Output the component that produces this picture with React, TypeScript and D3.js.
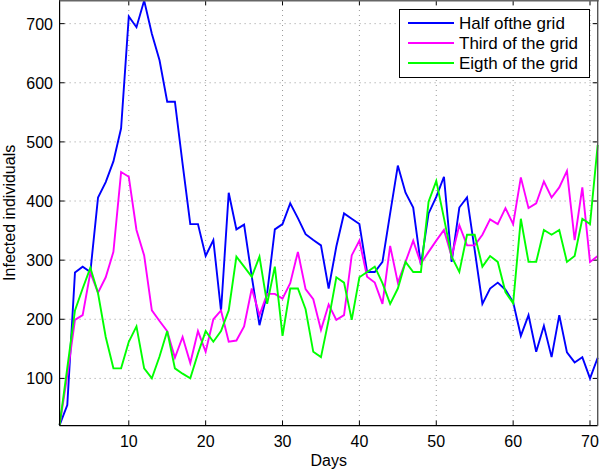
import React from "react";
import * as d3 from "d3";

const days: number[] = Array.from({ length: 71 }, (_, i) => i + 1);

const halfGrid: number[] = [
  21, 55, 279, 289, 280, 406, 432, 467, 523, 712,
  694, 739, 683, 638, 568, 568, 463, 361, 361, 307,
  334, 214, 414, 352, 360, 272, 190, 244, 352, 361,
  396, 371, 344, 334, 325, 252, 323, 379, 370, 361,
  280, 280, 297, 379, 460, 414, 389, 292, 379, 407,
  441, 297, 389, 406, 317, 226, 252, 262, 250, 229,
  172, 207, 145, 189, 136, 207, 144, 127, 136, 100,
  135,
];

const thirdGrid: number[] = [
  21, 105, 199, 207, 279, 245, 271, 314, 449, 441,
  351, 308, 215, 197, 180, 135, 170, 126, 180, 145,
  200, 215, 162, 164, 188, 252, 207, 243, 243, 235,
  261, 314, 251, 234, 182, 225, 199, 207, 308, 333,
  272, 262, 226, 324, 262, 297, 333, 294, 314, 333,
  351, 306, 359, 325, 325, 343, 369, 361, 388, 361,
  440, 388, 396, 433, 406, 423, 451, 334, 423, 297,
  307,
];

const eighthGrid: number[] = [
  21, 118, 215, 252, 287, 244, 170, 117, 117, 162,
  188, 117, 100, 137, 180, 117, 108, 100, 142, 180,
  162, 180, 215, 306, 289, 272, 306, 226, 289, 172,
  252, 252, 217, 145, 136, 199, 271, 262, 199, 271,
  280, 289, 261, 226, 252, 297, 280, 280, 399, 434,
  371, 306, 280, 343, 343, 289, 307, 297, 246, 227,
  370, 297, 297, 351, 343, 351, 297, 307, 370, 361,
  495,
];

const seriesNames: string[] = ["Half ofthe grid", "Third of the grid", "Eigth of the grid"];
const seriesColors: string[] = ["#0000ff", "#ff00ff", "#00ff00"];
const xTicks: number[] = [10, 20, 30, 40, 50, 60, 70];
const yTicks: number[] = [100, 200, 300, 400, 500, 600, 700];

const W = 600;
const H = 470;
const left = 59.6;
const right = 597.7;
const top = 0;
const bottom = 425.7;

export default function App() {
  const x = d3.scaleLinear().domain([1, 71]).range([left, right]);
  const y = d3.scaleLinear().domain([20, 740]).range([bottom, top]);
  const all = [halfGrid, thirdGrid, eighthGrid];
  const line = (vals: number[]) =>
    d3
      .line<number>()
      .x((_, i) => x(days[i]))
      .y((v) => y(v))(vals) as string;
  const font = "Liberation Sans, Arial, Helvetica, sans-serif";
  return (
    <svg
      width={W}
      height={H}
      style={{ position: "absolute", left: 0, top: 0, background: "#fff" }}
      fontFamily={font}
    >
      <rect x={0} y={0} width={W} height={H} fill="#fff" />
      {/* grid */}
      {xTicks.map((t) => (
        <line
          key={"gx" + t}
          x1={x(t)}
          x2={x(t)}
          y1={top}
          y2={bottom}
          stroke="#999"
          strokeWidth={1}
          strokeDasharray="1,4"
        />
      ))}
      {yTicks.map((t) => (
        <line
          key={"gy" + t}
          x1={left}
          x2={right}
          y1={y(t)}
          y2={y(t)}
          stroke="#999"
          strokeWidth={1}
          strokeDasharray="1,4"
        />
      ))}
      {/* ticks */}
      {xTicks.map((t) => (
        <g key={"tx" + t}>
          <line x1={x(t)} x2={x(t)} y1={bottom} y2={bottom - 5} stroke="#000" />
          <line x1={x(t)} x2={x(t)} y1={top} y2={top + 5} stroke="#000" />
          <text x={x(t)} y={447} textAnchor="middle" fontSize={16} fill="#000">
            {t}
          </text>
        </g>
      ))}
      {yTicks.map((t) => (
        <g key={"ty" + t}>
          <line x1={left} x2={left + 5} y1={y(t)} y2={y(t)} stroke="#000" />
          <line x1={right} x2={right - 5} y1={y(t)} y2={y(t)} stroke="#000" />
          <text x={53} y={y(t) + 6} textAnchor="end" fontSize={16} fill="#000">
            {t}
          </text>
        </g>
      ))}
      {/* series */}
      {all.map((vals, i) => (
        <path
          key={"s" + i}
          d={line(vals)}
          fill="none"
          stroke={seriesColors[i]}
          strokeWidth={1.9}
          strokeLinejoin="miter"
        />
      ))}
      {/* frame */}
      <line x1={left} x2={right} y1={bottom} y2={bottom} stroke="#000" strokeWidth={1.2} />
      <line x1={left} x2={left} y1={top} y2={bottom} stroke="#000" strokeWidth={1.2} />
      <line x1={left} x2={right + 1} y1={0.8} y2={0.8} stroke="#666" strokeWidth={1.6} />
      <line x1={right} x2={right} y1={top} y2={bottom} stroke="#555" strokeWidth={1.4} />
      {/* axis labels */}
      <text x={(left + right) / 2} y={466} textAnchor="middle" fontSize={16} fill="#000">
        Days
      </text>
      <text
        transform={`translate(15, ${(top + bottom) / 2}) rotate(-90)`}
        textAnchor="middle"
        fontSize={16}
        fill="#000"
      >
        Infected individuals
      </text>
      {/* legend */}
      <rect x={399.5} y={9.5} width={190} height={68} fill="#fff" stroke="#000" strokeWidth={1} />
      {seriesNames.map((n, i) => (
        <g key={"l" + i}>
          <line
            x1={408}
            x2={454}
            y1={23 + i * 20}
            y2={23 + i * 20}
            stroke={seriesColors[i]}
            strokeWidth={1.9}
          />
          <text x={459} y={23 + i * 20 + 6} fontSize={17} fill="#000">
            {n}
          </text>
        </g>
      ))}
    </svg>
  );
}
